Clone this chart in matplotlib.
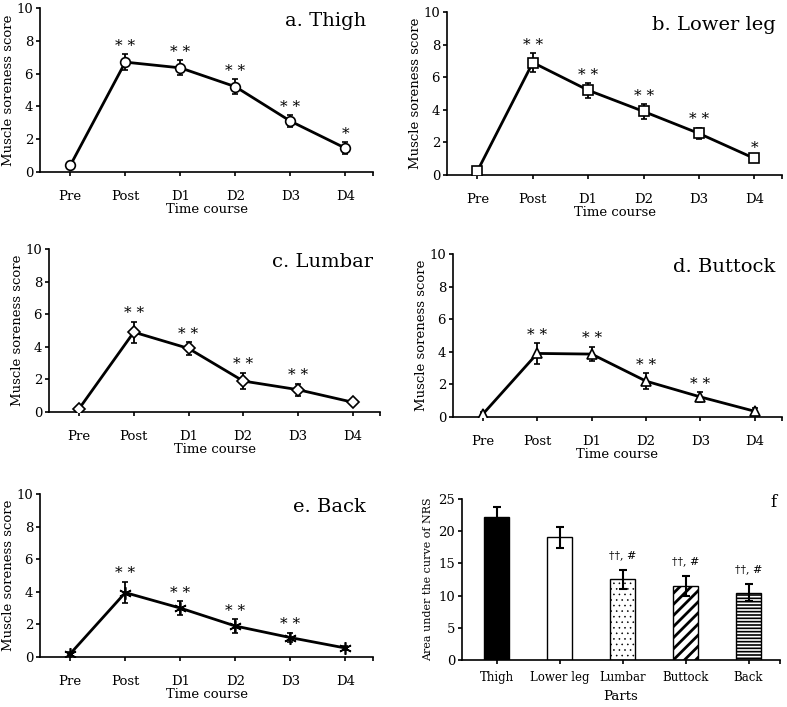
import matplotlib.pyplot as plt
import numpy as np

plt.rcParams['font.family'] = ['DejaVu Serif']

times = ['Pre', 'Post', 'D1', 'D2', 'D3', 'D4']

thigh = [0.4, 6.7, 6.35, 5.2, 3.1, 1.45]
thigh_err = [0.1, 0.5, 0.45, 0.45, 0.38, 0.37]
thigh_sig = ['', '**', '**', '**', '**', '*']

lowerleg = [0.25, 6.9, 5.2, 3.9, 2.55, 1.02]
lowerleg_err = [0.1, 0.58, 0.45, 0.45, 0.35, 0.1]
lowerleg_sig = ['', '**', '**', '**', '**', '*']

lumbar = [0.2, 4.9, 3.9, 1.9, 1.37, 0.6]
lumbar_err = [0.08, 0.65, 0.4, 0.5, 0.37, 0.1]
lumbar_sig = ['', '**', '**', '**', '**', '']

buttock = [0.18, 3.9, 3.86, 2.2, 1.23, 0.35]
buttock_err = [0.1, 0.62, 0.45, 0.47, 0.31, 0.22]
buttock_sig = ['', '**', '**', '**', '**', '']

back = [0.2, 3.95, 3.0, 1.9, 1.19, 0.55]
back_err = [0.08, 0.66, 0.43, 0.41, 0.29, 0.12]
back_sig = ['', '**', '**', '**', '**', '']

parts = ['Thigh', 'Lower leg', 'Lumbar', 'Buttock', 'Back']
auc = [22.2, 19.05, 12.55, 11.5, 10.45]
auc_err = [1.55, 1.65, 1.5, 1.5, 1.35]
auc_sig = ['', '', '††, #', '††, #', '††, #']

W, H = 787, 707
fig = plt.figure(figsize=(W / 100, H / 100), dpi=100)


def px_axes(left, right, top, bottom):
    return fig.add_axes([left / W, 1 - bottom / H, (right - left) / W, (bottom - top) / H])


def style(ax):
    ax.spines['top'].set_visible(False)
    ax.spines['right'].set_visible(False)
    ax.spines['left'].set_linewidth(1.2)
    ax.spines['bottom'].set_linewidth(1.2)
    ax.tick_params(direction='out', length=3, width=1.2, labelsize=9.5, pad=2)


def line_panel(rect, vals, errs, sigs, marker, ms, title):
    ax = px_axes(*rect)
    x = np.arange(len(times))
    ax.errorbar(x, vals, yerr=errs, color='black', lw=2, elinewidth=1.3,
                capsize=2, capthick=1.3, marker=marker, ms=ms, mfc='white',
                mec='black', mew=1.2, zorder=3)
    for xi, v, e, s in zip(x, vals, errs, sigs):
        if s:
            ax.annotate(' '.join(s), (xi, v + e), xytext=(0, 1), textcoords='offset points',
                        ha='center', va='bottom', fontsize=11)
    ax.set_xlim(-0.55, 5.5)
    ax.set_ylim(0, 10)
    ax.set_yticks([0, 2, 4, 6, 8, 10])
    ax.set_xticks(list(x) + [5.5])
    ax.set_xticklabels(times + [''])
    ax.set_ylabel('Muscle soreness score', fontsize=9.5, labelpad=1)
    ax.set_xlabel('Time course', fontsize=9.5, labelpad=0)
    ax.text(0.98, 0.92, title, transform=ax.transAxes, ha='right', va='center',
            fontsize=14)
    style(ax)
    ax.tick_params(axis='x', pad=10)
    return ax


line_panel((40, 373, 8, 172), thigh, thigh_err, thigh_sig, 'o', 7, 'a. Thigh')
line_panel((447, 782, 12, 175), lowerleg, lowerleg_err, lowerleg_sig, 's', 7, 'b. Lower leg')
line_panel((49, 380, 249, 412), lumbar, lumbar_err, lumbar_sig, 'D', 6, 'c. Lumbar')
line_panel((453, 782, 254, 417), buttock, buttock_err, buttock_sig, '^', 7.5, 'd. Buttock')
line_panel((40, 373, 494, 657), back, back_err, back_sig, (6, 2, 0), 9, 'e. Back')

# panel f
ax = px_axes(462, 780, 499, 660)
xb = np.arange(len(parts))
faces = ['black', 'white', 'white', 'white', 'white']
hatches = [None, None, '...', '///', '-----']
hatch_lw = [1, 1, 0.4, 2.0, 1.2]
for xi, v, fc, h, hl in zip(xb, auc, faces, hatches, hatch_lw):
    plt.rcParams['hatch.linewidth'] = hl
    ax.bar(xi, v, width=0.4, color=fc, edgecolor='black', hatch=h, lw=1)
ax.errorbar(xb, auc, yerr=auc_err, fmt='none', ecolor='black', elinewidth=1.5,
            capsize=3, capthick=1.5)
for xi, v, e, s in zip(xb, auc, auc_err, auc_sig):
    if s:
        ax.annotate(s, (xi, v + e), xytext=(0, 7), textcoords='offset points',
                    ha='center', va='bottom', fontsize=8)
ax.set_xlim(-0.55, 4.5)
ax.set_ylim(0, 25)
ax.set_yticks([0, 5, 10, 15, 20, 25])
ax.set_xticks(list(xb) + [4.5])
ax.set_xticklabels(parts + [''])
ax.set_ylabel('Area under the curve of NRS', fontsize=8, labelpad=4)
ax.set_xlabel('Parts', fontsize=9.5, labelpad=4)
ax.text(0.99, 0.98, 'f', transform=ax.transAxes, ha='right', va='center',
        fontsize=12)
style(ax)
ax.tick_params(axis='x', pad=5, labelsize=8.5)

fig.savefig('out.png', dpi=100)
